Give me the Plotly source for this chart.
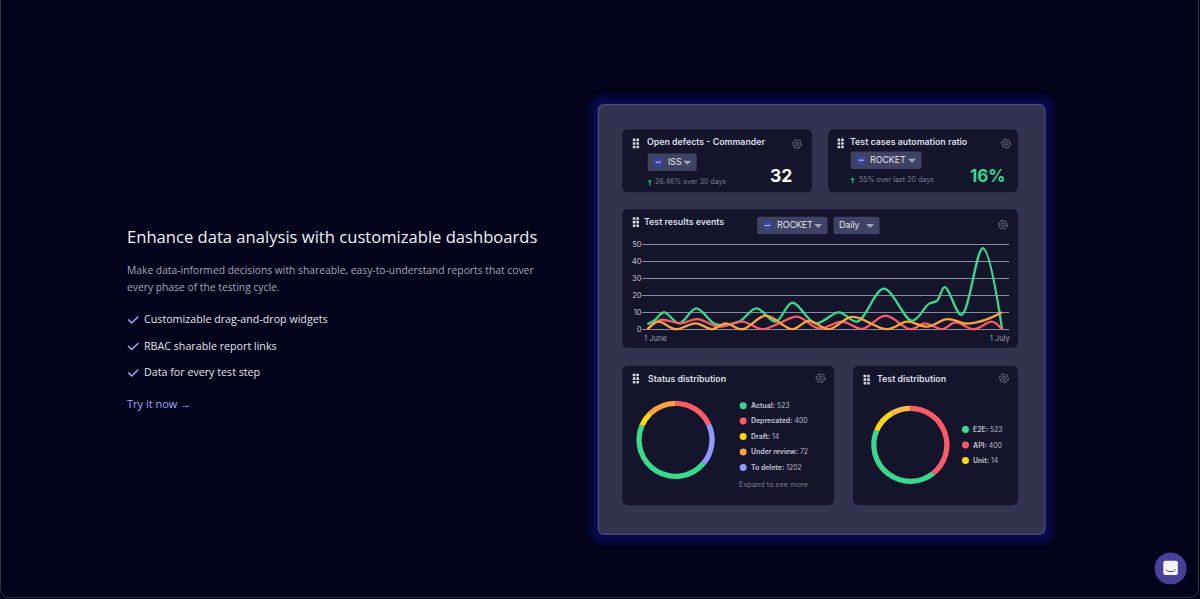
import math
import plotly.graph_objects as go

W, H = 1200, 599

# line chart (day 0 = 1 June, day 30 = 1 July)
green_days = [0, .56, 1.41, 2.68, 4.14, 5.77, 7.75, 9.21, 10.85, 12.25, 14.23, 16.2, 17.75, 20, 22.39, 23.8, 24.5, 25.15, 26.56, 28.37, 30]
green_vals = [3, 5, 10, 3.5, 12.4, 3, 4.5, 12.4, 4.5, 15.7, 3.5, 10, 4.5, 24, 5, 15, 17, 25, 8.5, 48, 0]
red_days = [0, 1.13, 2.82, 4.23, 6.06, 8.03, 9.72, 11.13, 12.68, 14.51, 16.48, 18.17, 20.14, 22.25, 23.46, 24.93, 26.06, 27.61, 29.15, 30]
red_vals = [0, 5.5, 3.5, 6, 1.5, 4.5, 0, 3.5, 7.5, 0.5, 4.5, 0.2, 8, 0, 3.5, 0, 4, 0, 4.5, 0]
orange_days = [0, .93, 2.39, 4.08, 5.49, 6.62, 8.03, 10, 12.25, 13.66, 15.35, 17.32, 20.28, 21.97, 23.66, 25.35, 27.04, 28.59, 30]
orange_vals = [0, 4.5, 0, 3.5, 0, 3.5, 0, 8, 0, 5, 0, 7.3, 0, 4.5, 1.5, 6, 3.3, 5.5, 10]
y_ticks = [0, 10, 20, 30, 40, 50]
x_tick_days = [0.68, 29.8]
x_tick_labels = ["1 June", "1 July"]

# donuts: arc sizes in degrees as drawn, clockwise from the top
status_slices = ["Deprecated", "To delete", "Actual", "Draft", "Under review"]
status_arcs = [65, 65, 163, 23, 44]
test_slices = ["API", "E2E", "Unit", "Other"]
test_arcs = [141, 152, 38, 29]

status_legend = [("Actual", 523), ("Deprecated", 400), ("Draft", 14), ("Under review", 72), ("To delete", 1202)]
test_legend = [("E2E", 523), ("API", 400), ("Unit", 14)]
bullets = ["Customizable drag-and-drop widgets", "RBAC sharable report links", "Data for every test step"]

GREEN, RED, YELLOW, ORANGE, LILAC = "#38d98c", "#fb5a68", "#fbd716", "#fda33f", "#8f98fb"
BG, CARD, PANEL, PILL = "#02021b", "#14152b", "#32344f", "#3f4263"
LEFT_FONT, UI_FONT = "Open Sans", "Inter"
SHIFT = 0.8  # shapes and donuts land a bit left otherwise

shapes, notes = [], []


def px(x):
    return (x + SHIFT) / W


def py(y):
    return 1 - y / H


def rrect(x0, y0, x1, y1, r, fill="rgba(0,0,0,0)", line=None, lw=1):
    p = (f"M{px(x0 + r)},{py(y0)} L{px(x1 - r)},{py(y0)} Q{px(x1)},{py(y0)} {px(x1)},{py(y0 + r)} "
         f"L{px(x1)},{py(y1 - r)} Q{px(x1)},{py(y1)} {px(x1 - r)},{py(y1)} "
         f"L{px(x0 + r)},{py(y1)} Q{px(x0)},{py(y1)} {px(x0)},{py(y1 - r)} "
         f"L{px(x0)},{py(y0 + r)} Q{px(x0)},{py(y0)} {px(x0 + r)},{py(y0)} Z")
    shapes.append(dict(type="path", xref="paper", yref="paper", path=p, fillcolor=fill,
                       line=dict(color=line or "rgba(0,0,0,0)", width=lw if line else 0), layer="below"))


def dot(cx, cy, r, fill):
    shapes.append(dict(type="circle", xref="paper", yref="paper", x0=px(cx - r), x1=px(cx + r),
                       y0=py(cy + r), y1=py(cy - r), fillcolor=fill, line=dict(width=0), layer="below"))


def poly(points, fill=None, line=None, lw=1):
    p = "M" + " L".join(f"{px(a)},{py(b)}" for a, b in points)
    if fill:
        p += " Z"
    shapes.append(dict(type="path", xref="paper", yref="paper", path=p,
                       fillcolor=fill or "rgba(0,0,0,0)",
                       line=dict(color=line or "rgba(0,0,0,0)", width=lw if line else 0), layer="below"))


def label(x, y, text, size, color, font=UI_FONT, anchor="left", weight=None):
    f = dict(family=font, size=size, color=color)
    if weight:
        f["weight"] = weight
    if font == UI_FONT and anchor == "left":
        x += 0.7
    notes.append(dict(x=x / W, y=py(y - 0.6), xref="paper", yref="paper", text=text, showarrow=False,
                      xanchor=anchor, yanchor="middle", font=f, borderpad=0, borderwidth=0))


def handle(x, y):
    # the six dots of the drag handle
    for i in range(2):
        for j in range(3):
            rrect(x + i * 3.6, y + j * 3.6, x + i * 3.6 + 2.6, y + j * 3.6 + 2.6, 0.4, fill="#d8d9e0")


def gear(cx, cy, r=4.6, color="#85869a"):
    pts = []
    for k in range(48):
        a = k / 48 * 2 * math.pi
        rr = r if (k % 8) < 4 else r * 0.78
        pts.append((cx + rr * math.cos(a), cy + rr * math.sin(a)))
    poly(pts + [pts[0]], line=color, lw=0.8)
    shapes.append(dict(type="circle", xref="paper", yref="paper", x0=px(cx - 1.7), x1=px(cx + 1.7),
                       y0=py(cy + 1.7), y1=py(cy - 1.7), line=dict(color=color, width=0.8), layer="below"))


def up_arrow(cx, cy):
    poly([(cx, cy - 3.2), (cx + 2.4, cy - 0.4), (cx + 0.7, cy - 0.4), (cx + 0.7, cy + 3),
          (cx - 0.7, cy + 3), (cx - 0.7, cy - 0.4), (cx - 2.4, cy - 0.4)], fill="#1fa55b")


def pill(x0, y0, x1, y1, text, logo=True, text_x=None):
    rrect(x0, y0, x1, y1, 2, fill=PILL)
    ym = (y0 + y1) / 2
    if logo:
        dot(x0 + 10.5, ym, 4.4, "#2a49b4")
        poly([(x0 + 8, ym), (x0 + 13, ym)], line="#dfe3f5", lw=1)
        poly([(x0 + 8, ym + 1.5), (x0 + 14.5, ym - 2)], line="#e2343f", lw=0.7)
    label(text_x, ym, text, 8.8, "#e4e5ee")
    cx, cy = x1 - 9.5, ym + 0.3
    poly([(cx - 4, cy - 1.8), (cx + 4, cy - 1.8), (cx, cy + 2.2)], fill="#a3a5b8")


# page frame
rrect(-0.3, -12, 1198.7, 598.4, 9, line="#34343e")

# glow and panel
for i in range(8, 0, -1):
    rrect(598 - i * 1.6, 104 - i * 1.6, 1045 + i * 1.6, 535 + i * 1.6, 6 + i * 1.6, fill="rgba(40,40,190,0.05)")
rrect(598, 104, 1045, 535, 6, fill=PANEL, line="#565880")

# cards
rrect(622, 129, 812, 192, 6, fill=CARD)
rrect(828, 129, 1018, 192, 6, fill=CARD)
rrect(622, 209, 1018, 348, 6, fill=CARD)
rrect(622, 366, 834, 506, 6, fill=CARD)
rrect(853, 366, 1018, 506, 6, fill=CARD)

# left column
label(127, 237, "Enhance data analysis with customizable dashboards", 16.6, "#f1f1f5", LEFT_FONT, weight=500)
label(127, 271, "Make data-informed decisions with shareable, easy-to-understand reports that cover", 10.3, "#a8a8b4", LEFT_FONT)
label(127, 287.5, "every phase of the testing cycle.", 10.3, "#a8a8b4", LEFT_FONT)
for i, b in enumerate(bullets):
    yy = 319.5 + i * 26.6
    poly([(127.5, yy), (131, yy + 3.5), (137.7, yy - 3)], line="#a4a8f8", lw=1.5)
    label(144, yy + 0.4, b, 10.7, "#e2e2e8", LEFT_FONT)
label(127, 404.5, "Try it now →", 11, "#a4a8f8", LEFT_FONT)

# card 1
handle(632.5, 138)
gear(797, 143.5)
label(647, 142, "Open defects - Commander", 8.8, "#dcdde4", weight=600)
pill(647.5, 153, 696.5, 170.5, "ISS", text_x=667.5)
up_arrow(649.5, 182)
label(655, 182, "26.46% over 30 days", 7, "#7d7e8f")
label(782, 176, "<b>32</b>", 17.5, "#ffffff", anchor="center")

# card 2
handle(837.5, 138)
gear(1006, 143)
label(850, 142, "Test cases automation ratio", 8.8, "#dcdde4", weight=600)
pill(850.5, 151, 921.5, 168.5, "ROCKET", text_x=870)
up_arrow(852.5, 180)
label(859, 180, "55% over last 30 days", 7.1, "#7d7e8f")
label(1006.5, 176, "<b>16%</b>", 17, GREEN, anchor="right")

# card 3
handle(632.5, 217)
gear(1003, 224.5)
label(643.5, 222, "Test results events", 8.8, "#dcdde4", weight=600)
pill(757, 216.5, 827.5, 234, "ROCKET", text_x=777)
pill(833.5, 216.5, 879.5, 234, "Daily", logo=False, text_x=839)

# card 4
handle(632.5, 374)
gear(820.5, 378.5)
label(647.5, 379, "Status distribution", 8.8, "#dcdde4", weight=600)
for (name, n), c, yy in zip(status_legend, [GREEN, RED, YELLOW, ORANGE, LILAC], [406, 421.5, 437, 452.5, 468]):
    dot(743, yy, 3.5, c)
    label(750.5, yy + 0.5, f"<b>{name}:</b> {n}", 6.9, "#b9bac6")
label(739, 486, "Expand to see more", 7.3, "#7d7e8f")

# card 5
handle(863.5, 375)
gear(1004, 378.5)
label(877, 379.5, "Test distribution", 8.8, "#dcdde4", weight=600)
for (name, n), c, yy in zip(test_legend, [GREEN, RED, YELLOW], [430, 445.5, 461]):
    dot(965.5, yy, 3.5, c)
    label(973, yy + 0.8, f"<b>{name}:</b> {n}", 6.9, "#b9bac6")

# chat button
dot(1170.7, 569.3, 16, "#483f96")
rrect(1163.5, 561.5, 1178, 576, 2, fill="#f4f4fa")
poly([(1166, 570.5), (1168.5, 572.4), (1173, 572.4), (1175.5, 570.5)], line="#483f96", lw=1)

fig = go.Figure()

for days, vals, col, nm in [(green_days, green_vals, GREEN, "green"),
                            (red_days, red_vals, RED, "red"),
                            (orange_days, orange_vals, ORANGE, "orange")]:
    fig.add_scatter(x=days, y=vals, mode="lines", name=nm, showlegend=False,
                    line=dict(color=col, width=2.3, shape="spline", smoothing=1))

r = 39.3
fig.add_pie(labels=status_slices, values=status_arcs, sort=False, direction="clockwise", rotation=0,
            hole=0.865, textinfo="none", showlegend=False,
            marker=dict(colors=[RED, LILAC, GREEN, YELLOW, ORANGE], line=dict(width=0)),
            domain=dict(x=[px(675.3 - r), px(675.3 + r)], y=[py(440.3 + r), py(440.3 - r)]))
fig.add_pie(labels=test_slices, values=test_arcs, sort=False, direction="clockwise", rotation=0,
            hole=0.865, textinfo="none", showlegend=False,
            marker=dict(colors=[RED, GREEN, YELLOW, "#fdb84e"], line=dict(width=0)),
            domain=dict(x=[px(910.3 - r), px(910.3 + r)], y=[py(445.3 + r), py(445.3 - r)]))

fig.update_layout(
    width=W, height=H, margin=dict(l=0, r=0, t=0, b=0, pad=0), autosize=False,
    paper_bgcolor=BG, plot_bgcolor="rgba(0,0,0,0)",
    shapes=shapes, annotations=notes, showlegend=False,
    xaxis=dict(domain=[643 / W, 1010 / W], range=[-0.42, 30.6], tickvals=x_tick_days, ticktext=x_tick_labels,
               showgrid=False, zeroline=False, showline=False, ticks="", tickangle=0,
               tickfont=dict(family=UI_FONT, size=7.5, color="#9c9daf"), anchor="y"),
    yaxis=dict(domain=[py(332.7), py(241.3)], range=[-2, 52], tickvals=y_ticks,
               showgrid=True, gridcolor="#8a8b9a", gridwidth=1.2, zeroline=False, showline=False, ticks="",
               tickfont=dict(family=UI_FONT, size=7.5, color="#c3c4d0"), anchor="x"),
)

fig.write_html("out.html", config=dict(displayModeBar=False),
               post_script="document.body.style.margin='0';document.body.style.overflow='hidden';")
